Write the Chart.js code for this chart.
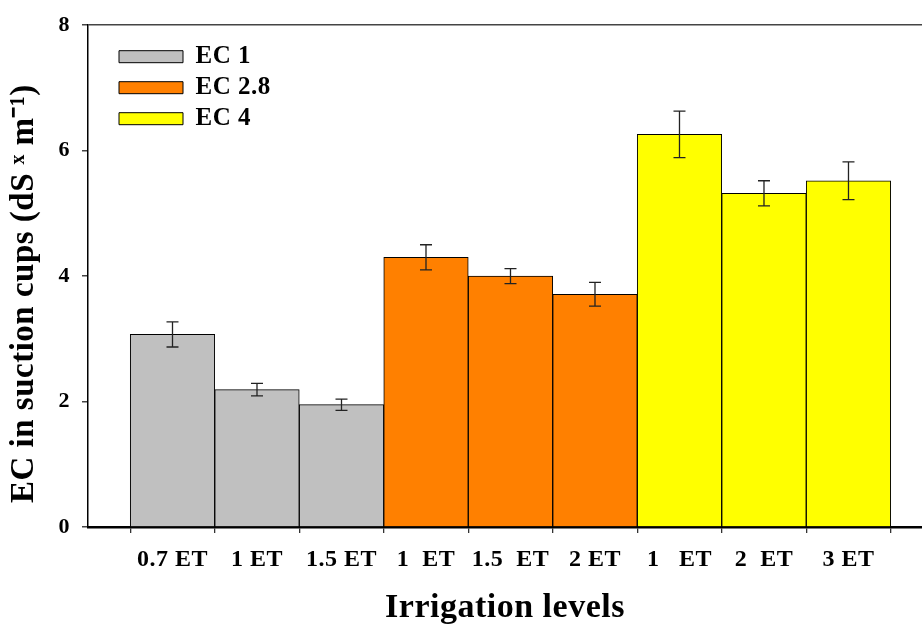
<!DOCTYPE html>
<html><head><meta charset="utf-8">
<script src="https://cdn.jsdelivr.net/npm/chart.js@4.4.0/dist/chart.umd.min.js"></script>
<style>html,body{margin:0;padding:0;background:#fff;overflow:hidden}#wrap{width:922px;height:626px}</style>
</head><body><div id="wrap"><canvas id="c" width="922" height="626"></canvas></div>
<script>
const categories = ['0.7 ET', '1 ET', '1.5 ET', '1  ET', '1.5  ET', '2 ET', '1   ET', '2  ET', '3 ET'];
const seriesNames = ['EC 1', 'EC 2.8', 'EC 4'];
const ec1Index = [0, 1, 2];
const ec1Values = [3.07, 2.19, 1.95];
const ec1Errors = [0.20, 0.10, 0.09];
const ec28Index = [3, 4, 5];
const ec28Values = [4.30, 4.00, 3.71];
const ec28Errors = [0.20, 0.12, 0.19];
const ec4Index = [6, 7, 8];
const ec4Values = [6.26, 5.32, 5.52];
const ec4Errors = [0.37, 0.20, 0.30];
const yTicks = [0, 2, 4, 6, 8];

const FONT = "'Liberation Serif', 'Times New Roman', serif";

function mk(idx, vals) { return idx.map((x, i) => ({ x: x, y: vals[i] })); }

const spacingPlugin = {
  id: 'spacing',
  beforeUpdate(chart) { try { chart.ctx.letterSpacing = '0.5px'; } catch (e) {} },
  beforeDraw(chart) { try { chart.ctx.letterSpacing = '0.5px'; } catch (e) {} }
};

const errorBarPlugin = {
  id: 'errorBars',
  afterDatasetsDraw(chart) {
    const ctx = chart.ctx, ys = chart.scales.y;
    chart.data.datasets.forEach((ds, di) => {
      const meta = chart.getDatasetMeta(di);
      meta.data.forEach((bar, i) => {
        const v = ds.data[i].y, e = ds.errors[i];
        const t = ys.getPixelForValue(v + e), b = ys.getPixelForValue(v - e);
        ctx.save();
        ctx.strokeStyle = '#222';
        ctx.lineWidth = 1.3;
        ctx.beginPath();
        ctx.moveTo(bar.x, t); ctx.lineTo(bar.x, b);
        ctx.moveTo(bar.x - 6, t); ctx.lineTo(bar.x + 6, t);
        ctx.moveTo(bar.x - 6, b); ctx.lineTo(bar.x + 6, b);
        ctx.stroke();
        ctx.restore();
      });
    });
  }
};

const legendPlace = {
  id: 'legendPlace',
  afterLayout(chart) {
    const lg = chart.legend, ca = chart.chartArea;
    if (!lg) return;
    const w = lg.width, h = lg.height;
    lg.left = ca.left + 25; lg.top = ca.top + 13;
    lg.right = lg.left + w; lg.bottom = lg.top + h;
  }
};

new Chart(document.getElementById('c'), {
  type: 'bar',
  data: {
    datasets: [
      { label: seriesNames[0], data: mk(ec1Index, ec1Values), errors: ec1Errors, backgroundColor: '#C0C0C0' },
      { label: seriesNames[1], data: mk(ec28Index, ec28Values), errors: ec28Errors, backgroundColor: '#FF8000' },
      { label: seriesNames[2], data: mk(ec4Index, ec4Values), errors: ec4Errors, backgroundColor: '#FFFF00' }
    ].map(d => Object.assign(d, { borderColor: '#000', borderWidth: 1, grouped: false, barPercentage: 1, categoryPercentage: 1 }))
  },
  options: {
    responsive: false,
    animation: false,
    devicePixelRatio: 1,
    layout: { padding: { top: 22, left: 0, right: 0, bottom: 0 } },
    plugins: {
      tooltip: { enabled: false },
      legend: {
        position: 'chartArea',
        align: 'start',
        labels: {
          boxWidth: 64, boxHeight: 12, padding: 6, color: '#000',
          font: { family: FONT, size: 25, weight: 'bold' }
        }
      }
    },
    scales: {
      x: {
        type: 'linear',
        min: -1, max: 8.87,
        offset: false,
        afterFit: s => { s.height = 99; },
        afterBuildTicks: s => { s.ticks = categories.map((c, i) => ({ value: i })); },
        ticks: {
          autoSkip: false, maxRotation: 0, padding: 12, color: '#000',
          font: { family: FONT, size: 24, weight: 'bold' },
          callback: v => categories[v]
        },
        grid: { drawOnChartArea: false, drawTicks: true, tickLength: 6, color: '#333', lineWidth: 1.3 },
        border: { display: true, color: '#000', width: 2.5 },
        title: { display: true, text: 'Irrigation levels', color: '#000', padding: { top: 0, bottom: -3 },
          font: { family: FONT, size: 34, weight: 'bold' } }
      },
      y: {
        min: 0, max: 8,
        afterFit: s => { s.width = 88; },
        afterBuildTicks: s => { s.ticks = yTicks.map(v => ({ value: v })); },
        ticks: { padding: 12, color: '#000', font: { family: FONT, size: 22, weight: 'bold' } },
        grid: {
          drawOnChartArea: true, drawTicks: true, tickLength: 6,
          color: c => (c.tick && c.tick.value === 8) ? '#444' : 'rgba(0,0,0,0)',
          tickColor: '#444', lineWidth: 1.5
        },
        border: { display: true, color: '#000', width: 1.5 },
        title: { display: true, text: 'EC in suction cups (dS ˣ m⁻¹)    ', color: '#000', padding: { top: 5, bottom: 0 },
          font: { family: FONT, size: 33, weight: 'bold' } }
      }
    }
  },
  plugins: [spacingPlugin, errorBarPlugin, legendPlace]
});
</script>
</body></html>
